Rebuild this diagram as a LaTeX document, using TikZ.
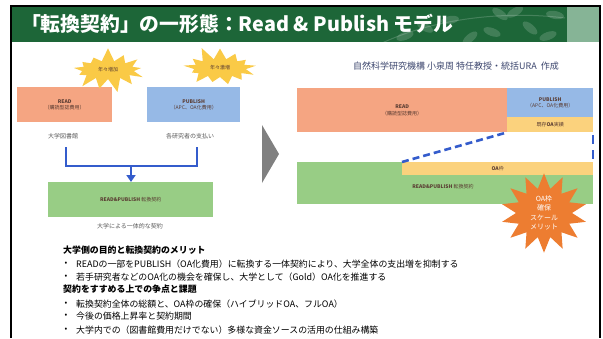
\documentclass[tikz,border=0pt]{standalone}
\usepackage{fontspec}
\setmainfont{Noto Sans CJK JP}
\usetikzlibrary{shapes.symbols,arrows.meta,calc}
\definecolor{titlegreen}{RGB}{29,102,56}
\definecolor{lightgreen}{RGB}{134,180,150}
\definecolor{readc}{RGB}{245,165,130}
\definecolor{pubc}{RGB}{150,185,230}
\definecolor{oac}{RGB}{251,210,125}
\definecolor{grc}{RGB}{152,205,133}
\definecolor{starY}{RGB}{250,202,70}
\definecolor{starO}{RGB}{237,125,49}
\definecolor{connblue}{RGB}{52,92,204}
\definecolor{credit}{RGB}{60,70,110}
\definecolor{boxtext}{RGB}{90,60,50}
\definecolor{captext}{RGB}{90,90,90}
\begin{document}
\begin{tikzpicture}[x=1pt,y=-1pt,
  box/.style={draw=none, inner sep=0pt, align=center, text=boxtext,
    font=\fontsize{5}{6.5}\selectfont},
  captxt/.style={text=captext, font=\fontsize{6}{7}\selectfont, inner sep=0pt},
  ystar/.style={starburst, starburst points=13, starburst point height=14pt,
    fill=starY, draw=none, text=boxtext, font=\fontsize{5}{6}\selectfont,
    minimum width=80pt, minimum height=46pt, inner sep=0pt},
  conn/.style={draw=connblue, line width=2.2pt},
  dashconn/.style={draw=connblue, line width=2.6pt, dash pattern=on 7pt off 4pt},
  body/.style={anchor=west, inner sep=0pt, font=\fontsize{8.9}{10}\selectfont},
  head/.style={anchor=west, inner sep=0pt, font=\fontsize{8.9}{10}\selectfont\bfseries},
  bul/.style={anchor=center, inner sep=0pt, font=\fontsize{8}{10}\selectfont}]
\useasboundingbox (0,0) rectangle (603,338);
\fill[white] (0,0) rectangle (603,338);
% title bar
\fill[titlegreen] (11,6) rectangle (567,42);
\fill[lightgreen] (567,6) rectangle (600,42);
\begin{scope}
  \clip (11,6) rectangle (567,42);
  \draw[white, opacity=0.18, line width=1pt] (380,44) .. controls (430,20) and (500,10) .. (565,18);
  \foreach \cx/\cy/\ang in {405/36/20, 425/27/-30, 450/20/10, 470/38/40, 492/32/-20, 515/12/30, 530/28/-40, 548/36/20, 555/15/-10, 500/14/-35}{
    \fill[white, opacity=0.16, rotate around={\ang:(\cx,\cy)}] (\cx,\cy) ellipse (9pt and 4pt);
  }
\end{scope}
\draw[black, line width=1.5pt] (11,338) -- (11,6) -- (600,6) -- (600,338);
\node[anchor=west, text=white, inner sep=0pt,
  font=\fontsize{19.8}{20}\selectfont\bfseries] (title) at (21,24)
  {「転換契約」の一形態：Read \& Publish モデル};
% ---------- left diagram
\node[box, fill=readc, minimum width=95pt, minimum height=35pt, anchor=north west]
  (read1) at (17,87) {\textbf{READ}\\（購読型誌費用）};
\node[box, fill=pubc, minimum width=93pt, minimum height=35pt, anchor=north west]
  (pub1) at (147,87) {\textbf{PUBLISH}\\（APC、OA化費用）};
\node[ystar, random starburst=7] (star1) at (108,70) {年々増加};
\node[ystar, random starburst=11] (star2) at (220,68) {年々激増};
\node[captxt] (lib) at (63,136) {大学図書館};
\node[captxt] (res) at (190,136) {各研究者の支払い};
\node[box, fill=grc, minimum width=165pt, minimum height=35pt, anchor=north west]
  (rp1) at (48,182) {\textbf{READ\&PUBLISH} 転換契約};
\node[captxt] (uni) at (130,226) {大学による一体的な契約};
\coordinate (cl) at (66,147);
\coordinate (cr) at (197,147);
\coordinate (j) at (131,166);
\draw[conn] (cl) -- (cl |- j) -- (cr |- j) -- (cr);
\draw[conn, -{Triangle[length=7pt,width=9pt]}] (j) -- (rp1.north -| j);
% arrow triangle
\fill[gray] (262,125) -- (279,154) -- (262,183) -- cycle;
% ---------- right diagram
\node[anchor=west, inner sep=0pt, text=credit, font=\fontsize{9}{10}\selectfont]
  (credit) at (353,66) {自然科学研究機構 小泉周 特任教授・統括URA\ \ 作成};
\node[box, fill=readc, minimum width=210pt, minimum height=44pt, anchor=north west]
  (read2) at (297,88) {\textbf{READ}\\（購読型誌費用）};
\node[box, fill=pubc, minimum width=86pt, minimum height=29pt, anchor=north west]
  (pub2) at (507,88) {\textbf{PUBLISH}\\（APC、OA化費用）};
\node[box, fill=oac, minimum width=86pt, minimum height=15pt, anchor=north west]
  (oa2) at (507,117) {既存\textbf{OA}実績};
\node[box, fill=grc, minimum width=296pt, minimum height=42pt, anchor=north west]
  (rp2) at (297,162) {};
\node[box, fill=oac, minimum width=191pt, minimum height=13pt, anchor=north west]
  (oawaku) at (402,162) {\textbf{OA}枠};
\node[box] (rp2t) at (443,187) {\textbf{READ\&PUBLISH} 転換契約};
\draw[dashconn] (oawaku.north west) -- (oa2.south west);
\draw[dashconn, line width=2pt, dash pattern=on 9pt off 6pt] ($(oa2.south east)+(0,3)$) -- (oawaku.north east);
\node[starburst, starburst points=14, starburst point height=15pt, random starburst=0,
  fill=starO, draw=none, text=white, align=center, inner sep=0pt,
  font=\fontsize{7}{9.5}\selectfont, minimum width=86pt, minimum height=70pt]
  (merit) at (544,213) {OA枠\\確保\\スケール\\メリット};
% ---------- bottom text
\node[head] (h1) at (63,250) {大学側の目的と転換契約のメリット};
\node[bul] (b1) at (66,264) {•};
\node[body] (t1) at (76,264) {READの一部をPUBLISH（OA化費用）に転換する一体契約により、大学全体の支出増を抑制する};
\node[bul] (b2) at (66,277) {•};
\node[body] (t2) at (76,277) {若手研究者などのOA化の機会を確保し、大学として（Gold）OA化を推進する};
\node[head] (h2) at (63,289) {契約をすすめる上での争点と課題};
\node[bul] (b3) at (66,304) {•};
\node[body] (t3) at (76,304) {転換契約全体の総額と、OA枠の確保（ハイブリッドOA、フルOA）};
\node[bul] (b4) at (66,316) {•};
\node[body] (t4) at (76,316) {今後の価格上昇率と契約期間};
\node[bul] (b5) at (66,330) {•};
\node[body] (t5) at (76,330) {大学内での（図書館費用だけでない）多様な資金ソースの活用の仕組み構築};
\end{tikzpicture}
\end{document}
